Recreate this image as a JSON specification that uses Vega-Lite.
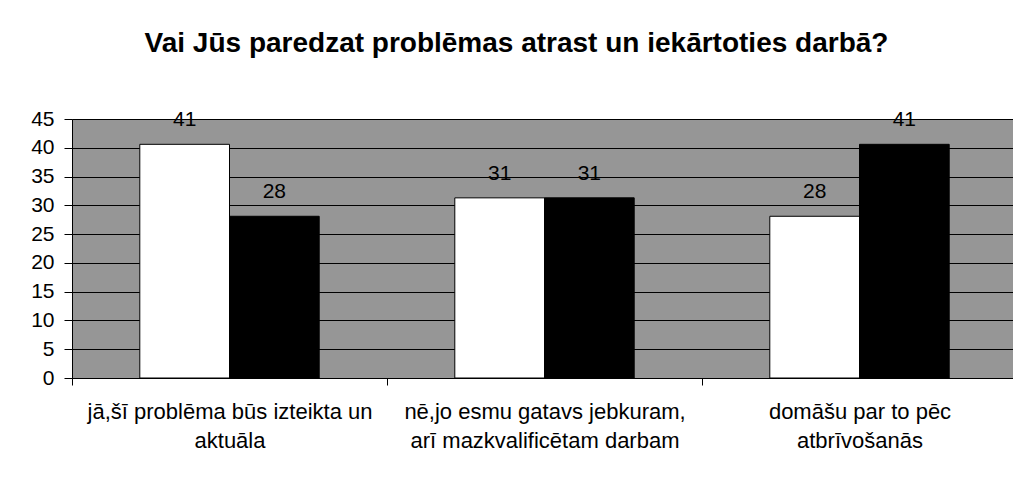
{
  "$schema": "https://vega.github.io/schema/vega-lite/v6.json",
  "autosize": {"type": "none"},
  "padding": {"left": 72, "top": 119, "right": 0, "bottom": 99},
  "width": 945,
  "height": 259,
  "background": "white",
  "title": {
    "text": "Vai Jūs paredzat problēmas atrast un iekārtoties darbā?",
    "font": "Liberation Sans",
    "fontSize": 28,
    "fontWeight": "bold",
    "color": "black",
    "frame": "group",
    "anchor": "middle",
    "dx": -28,
    "offset": 50
  },
  "data": {
    "values": [
      {"kategorija": "jā,šī problēma būs izteikta un aktuāla", "sērija": "Sērija 1", "vērtība": 40.6},
      {"kategorija": "jā,šī problēma būs izteikta un aktuāla", "sērija": "Sērija 2", "vērtība": 28.1},
      {"kategorija": "nē,jo esmu gatavs jebkuram, arī mazkvalificētam darbam", "sērija": "Sērija 1", "vērtība": 31.3},
      {"kategorija": "nē,jo esmu gatavs jebkuram, arī mazkvalificētam darbam", "sērija": "Sērija 2", "vērtība": 31.3},
      {"kategorija": "domāšu par to pēc atbrīvošanās", "sērija": "Sērija 1", "vērtība": 28.1},
      {"kategorija": "domāšu par to pēc atbrīvošanās", "sērija": "Sērija 2", "vērtība": 40.6}
    ]
  },
  "config": {
    "view": {"fill": "#969696", "stroke": null},
    "axis": {
      "labelFont": "Liberation Sans",
      "labelColor": "black",
      "domainColor": "black",
      "tickColor": "black",
      "gridColor": "black",
      "gridOpacity": 1,
      "labelOverlap": false,
      "labelBound": false
    }
  },
  "encoding": {
    "x": {
      "field": "kategorija",
      "type": "nominal",
      "sort": null,
      "scale": {"paddingInner": 0, "paddingOuter": 0},
      "axis": {
        "title": null,
        "labelAngle": 0,
        "labelFontSize": 22,
        "labelPadding": 16,
        "labelLineHeight": 29,
        "labelLimit": 0,
        "tickBand": "extent",
        "tickSize": 7,
        "labelExpr": "datum.value == 'jā,šī problēma būs izteikta un aktuāla' ? ['jā,šī problēma būs izteikta un', 'aktuāla'] : datum.value == 'domāšu par to pēc atbrīvošanās' ? ['domāšu par to pēc', 'atbrīvošanās'] : datum.value == 'nē,jo esmu gatavs jebkuram, arī mazkvalificētam darbam' ? ['nē,jo esmu gatavs jebkuram,', 'arī mazkvalificētam darbam'] : ''"
      }
    },
    "xOffset": {
      "field": "sērija",
      "type": "nominal",
      "scale": {"paddingInner": 0, "paddingOuter": 0.756}
    },
    "y": {
      "field": "vērtība",
      "type": "quantitative",
      "scale": {"domain": [0, 45], "nice": false},
      "axis": {
        "title": null,
        "values": [0, 5, 10, 15, 20, 25, 30, 35, 40, 45],
        "grid": true,
        "labelFontSize": 21,
        "tickSize": 8,
        "labelPadding": 10
      }
    }
  },
  "layer": [
    {
      "mark": {"type": "bar", "stroke": "black", "strokeWidth": 1},
      "encoding": {
        "fill": {
          "field": "sērija",
          "type": "nominal",
          "scale": {"range": ["white", "black"]},
          "legend": null
        }
      }
    },
    {
      "mark": {"type": "text", "font": "Liberation Sans", "fontSize": 21, "color": "black", "baseline": "alphabetic", "dy": -18},
      "encoding": {
        "text": {"field": "vērtība", "type": "quantitative", "format": ".0f"}
      }
    }
  ]
}
